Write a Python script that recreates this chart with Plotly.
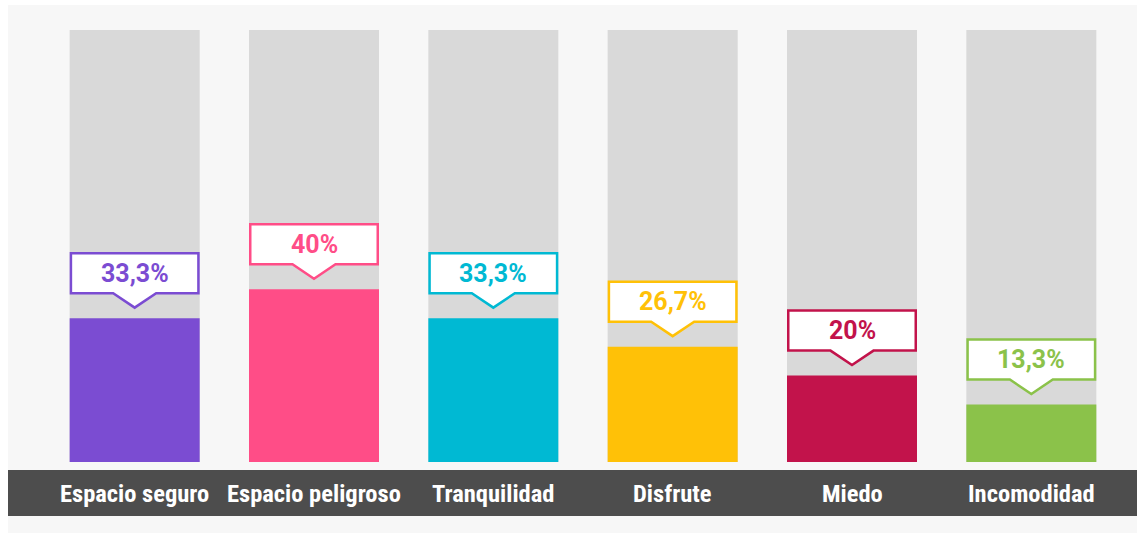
import plotly.graph_objects as go

categories = ["Espacio seguro", "Espacio peligroso", "Tranquilidad", "Disfrute", "Miedo", "Incomodidad"]
values = [33.3, 40, 33.3, 26.7, 20, 13.3]
value_labels = ["33,3%", "40%", "33,3%", "26,7%", "20%", "13,3%"]
colors = ["#7b4cd2", "#ff4d87", "#00b9d3", "#ffc107", "#c2134b", "#8bc24a"]
full_scale = [100] * len(categories)

W, H = 1137, 533
ML, MR, MT, MB = 45, 16, 30, 71
PW, PH = W - ML - MR, H - MT - MB
YMAX = 100.0

def px_x(px):
    return (px - ML) / PW

def px_y(py):
    return (H - MB - py) / PH

unit_x = PW / len(categories)      # px per category unit
unit_y = PH / YMAX                 # px per value unit
bar_w = 130 / unit_x

idx = list(range(len(categories)))

fig = go.Figure()
fig.add_trace(go.Bar(x=idx, y=full_scale, width=bar_w, marker=dict(color="#d9d9d9", line=dict(width=0)),
                     hoverinfo="skip", showlegend=False))
fig.add_trace(go.Bar(x=idx, y=values, width=bar_w, marker=dict(color=colors, line=dict(width=0)),
                     hoverinfo="skip", showlegend=False))

shapes = [
    dict(type="rect", xref="paper", yref="paper", x0=px_x(8), x1=px_x(1140), y0=px_y(540), y1=px_y(5),
         fillcolor="#f7f7f7", line=dict(width=0), layer="below"),
    dict(type="rect", xref="paper", yref="paper", x0=px_x(8), x1=px_x(1140), y0=px_y(516), y1=px_y(470),
         fillcolor="#4d4d4d", line=dict(width=0), layer="below"),
]
annotations = []

lw = 2.5
hw = (65 - lw / 2) / unit_x
pw = 21.5 / unit_x
for i, (v, lab, c) in enumerate(zip(values, value_labels, colors)):
    tip = v + 10.5 / unit_y
    bot = v + 25 / unit_y
    top = v + 65 / unit_y
    path = (f"M {i-hw},{bot} L {i-pw},{bot} L {i},{tip} L {i+pw},{bot} L {i+hw},{bot} "
            f"L {i+hw},{top} L {i-hw},{top} Z")
    shapes.append(dict(type="path", xref="x", yref="y", path=path, fillcolor="white",
                       line=dict(color=c, width=lw), layer="above"))
    annotations.append(dict(x=i, y=(bot + top) / 2, xref="x", yref="y", text=f"<b>{lab}</b>",
                            showarrow=False, xanchor="center", yanchor="middle",
                            font=dict(family="Roboto", size=25, color=c)))

for i, cat in enumerate(categories):
    annotations.append(dict(x=i, y=px_y(493), xref="x", yref="paper", text=f"<b>{cat}</b>",
                            showarrow=False, xanchor="center", yanchor="middle",
                            font=dict(family="Liberation Sans Narrow, Roboto Condensed, Arial Narrow, Roboto",
                                      size=24.5, color="white")))

fig.update_layout(
    width=W, height=H,
    margin=dict(l=ML, r=MR, t=MT, b=MB, pad=0),
    paper_bgcolor="white", plot_bgcolor="rgba(0,0,0,0)",
    barmode="overlay",
    xaxis=dict(range=[-0.5, len(categories) - 0.5], visible=False, fixedrange=True),
    yaxis=dict(range=[0, YMAX], visible=False, fixedrange=True),
    shapes=shapes, annotations=annotations,
    showlegend=False,
)

fig.write_html("out.html", config={"displayModeBar": False},
               post_script="document.body.style.margin='0';")
